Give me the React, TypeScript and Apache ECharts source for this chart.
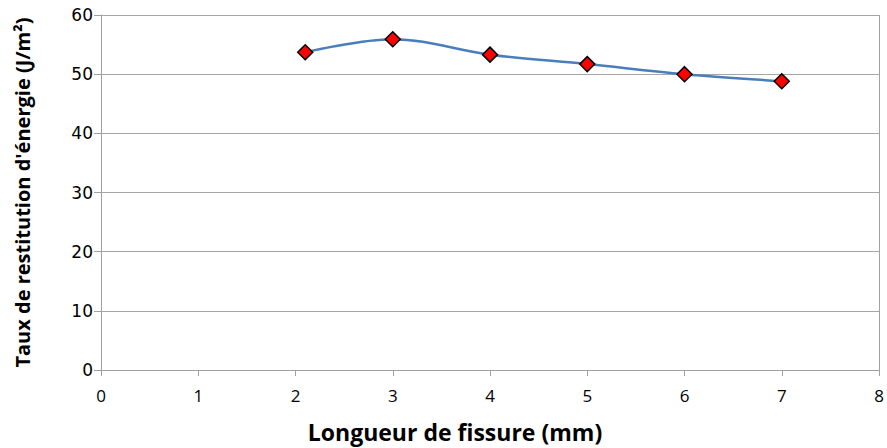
import React, { useEffect, useRef } from "react";
import * as echarts from "echarts";

const crackLengths = [2.1, 3, 4, 5, 6, 7];
const releaseRates = [53.7, 55.9, 53.3, 51.7, 50.0, 48.8];
const xTitle = "Longueur de fissure (mm)";
const yTitle = "Taux de restitution d'énergie (J/m²)";

export default function App() {
  const ref = useRef<HTMLDivElement>(null);
  useEffect(() => {
    if (!ref.current) return;
    const chart = echarts.init(ref.current, undefined, { renderer: "svg" });
    const narrow = "'Open Sans', sans-serif";
    chart.setOption({
      animation: false,
      backgroundColor: "#ffffff",
      grid: { left: 101, right: 8, top: 15, bottom: 78, containLabel: false, outerBoundsMode: "none" },
      xAxis: {
        type: "value",
        min: 0,
        max: 8,
        interval: 1,
        name: xTitle,
        nameLocation: "middle",
        nameGap: 50,
        nameTextStyle: {
          fontFamily: narrow,
          fontWeight: "bold",
          fontSize: 23,
          color: "#000",
          padding: [0, 70, 0, 0],
        },
        axisLine: { show: true, lineStyle: { color: "#a0a0a0", width: 1 } },
        axisTick: { show: true, length: 6, lineStyle: { color: "#a0a0a0" } },
        axisLabel: { fontFamily: narrow, fontSize: 17, color: "#000", margin: 17 },
        splitLine: { show: false },
      },
      yAxis: {
        type: "value",
        min: 0,
        max: 60,
        interval: 10,
        name: yTitle,
        nameLocation: "middle",
        nameGap: 69,
        nameRotate: 90,
        nameTextStyle: { fontFamily: narrow, fontWeight: "bold", fontSize: 20, color: "#000" },
        axisLine: { show: true, lineStyle: { color: "#a0a0a0", width: 1 } },
        axisTick: { show: true, length: 7, lineStyle: { color: "#a0a0a0" } },
        axisLabel: { fontFamily: "'DejaVu Sans', Verdana, sans-serif", fontSize: 17, color: "#000", margin: 8 },
        splitLine: { show: true, lineStyle: { color: "#a6a6a6", width: 1 } },
      },
      graphic: [
        {
          type: "line",
          shape: { x1: 879.5, y1: 15, x2: 879.5, y2: 370 },
          style: { stroke: "#a0a0a0", lineWidth: 1 },
          silent: true,
        },
      ],
      series: [
        {
          type: "line",
          data: crackLengths.map((x, i) => [x, releaseRates[i]]),
          smooth: 0.35,
          symbol: "diamond",
          symbolSize: 15,
          itemStyle: { color: "#ff0000", borderColor: "#000000", borderWidth: 1.5 },
          lineStyle: { color: "#4a7ebb", width: 2.5 },
        },
      ],
    });
    return () => chart.dispose();
  }, []);
  return <div ref={ref} style={{ width: 887, height: 448, position: "absolute", left: 0, top: 0 }} />;
}
